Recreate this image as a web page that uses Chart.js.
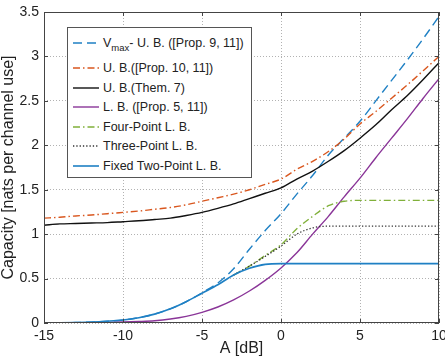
<!DOCTYPE html>
<html>
<head>
<meta charset="utf-8">
<script src="https://cdn.jsdelivr.net/npm/chart.js@4.4.1/dist/chart.umd.min.js"></script>
<style>
  html, body { margin: 0; padding: 0; background: #fff; }
  #wrap { position: relative; width: 445px; height: 356px; }
  #legend {
    position: absolute; left: 67px; top: 27px; width: 183px; height: 149px;
    border: 1px solid #555; background: #fff;
    font-family: "Liberation Sans", Arial, sans-serif; font-size: 12.5px; color: #222;
  }
  .row { position: absolute; left: 5px; height: 16px; display: flex; align-items: center; white-space: nowrap; }
  .row svg { display: block; margin-right: 4px; }
  .row sub { font-size: 9.5px; vertical-align: -4px; line-height: 0; }
</style>
</head>
<body>
<div id="wrap">
  <canvas id="chart" width="445" height="356"></canvas>
  <div id="legend"></div>
</div>
<script>
// A [dB] on the x axis
const aDb = [-15, -14, -13, -12, -11, -10, -9, -8, -7, -6, -5, -4, -3, -2, -1, 0, 1, 2, 3, 4, 5, 6, 7, 8, 9, 10];
// the three-point / four-point bounds split off the two-point one near -3 dB
const aDbBranch = [-3, -2, -1, 0, 1, 2, 3, 4, 5, 6, 7, 8, 9, 10];

const vmaxUB = [0, 0.002, 0.005, 0.01, 0.02, 0.034, 0.06, 0.1, 0.16, 0.24, 0.34, 0.45, 0.61, 0.83, 1.04, 1.23, 1.45, 1.66, 1.89, 2.08, 2.27, 2.50, 2.73, 2.96, 3.20, 3.45];
const ubProp10 = [1.18, 1.19, 1.205, 1.215, 1.23, 1.245, 1.26, 1.28, 1.30, 1.33, 1.37, 1.41, 1.45, 1.50, 1.56, 1.62, 1.73, 1.82, 1.93, 2.07, 2.24, 2.38, 2.53, 2.68, 2.84, 3.0];
const ubThm7 = [1.10, 1.115, 1.12, 1.125, 1.13, 1.14, 1.15, 1.165, 1.18, 1.21, 1.245, 1.29, 1.34, 1.40, 1.46, 1.52, 1.62, 1.71, 1.82, 1.94, 2.08, 2.23, 2.40, 2.56, 2.74, 2.93];
const lbProp5 = [0, 0.001, 0.002, 0.004, 0.007, 0.011, 0.017, 0.026, 0.045, 0.075, 0.12, 0.18, 0.26, 0.36, 0.48, 0.62, 0.79, 1.0, 1.2, 1.42, 1.63, 1.86, 2.08, 2.30, 2.53, 2.75];
const fourPointLB = [0.54, 0.64, 0.76, 0.88, 1.06, 1.20, 1.32, 1.37, 1.38, 1.38, 1.38, 1.38, 1.38, 1.38];
const threePointLB = [0.54, 0.64, 0.75, 0.865, 1.0, 1.07, 1.09, 1.09, 1.09, 1.09, 1.09, 1.09, 1.09, 1.09];
const twoPointLB = [0, 0.002, 0.005, 0.01, 0.02, 0.034, 0.06, 0.1, 0.16, 0.24, 0.335, 0.43, 0.54, 0.615, 0.66, 0.668, 0.668, 0.668, 0.668, 0.668, 0.668, 0.668, 0.668, 0.668, 0.668, 0.668];

const xTicks = [-15, -10, -5, 0, 5, 10];
const yTicks = [0, 0.5, 1, 1.5, 2, 2.5, 3, 3.5];

const BLUE = '#1f80c4';
const ORANGE = '#d9571f';
const PURPLE = '#8a3598';
const GREEN = '#80b03a';
const BLACK = '#111';
const FONT = '"Liberation Sans", Arial, sans-serif';

const pts = (xs, ys) => xs.map((x, i) => ({ x: x, y: ys[i] }));

// legend entries, in the order shown in the box
const series = [
    { html: 'V<sub>max</sub>- U. B. ([Prop. 9, 11])', data: pts(aDb, vmaxUB), color: BLUE, dash: [9, 5], width: 1.4 },
    { html: 'U. B.([Prop. 10, 11])', data: pts(aDb, ubProp10), color: ORANGE, dash: [7, 3, 1.5, 3], width: 1.4 },
    { html: 'U. B.(Them. 7)', data: pts(aDb, ubThm7), color: BLACK, dash: [], width: 1.4 },
    { html: 'L. B. ([Prop. 5, 11])', data: pts(aDb, lbProp5), color: PURPLE, dash: [], width: 1.4 },
    { html: 'Four-Point L. B.', data: pts(aDbBranch, fourPointLB), color: GREEN, dash: [7, 3, 1.5, 3], width: 1.4 },
    { html: 'Three-Point L. B.', data: pts(aDbBranch, threePointLB), color: '#333', dash: [1.3, 2], width: 1.3 },
    { html: 'Fixed Two-Point L. B.', data: pts(aDb, twoPointLB), color: BLUE, dash: [], width: 1.6 }
];

// html legend (needed for the subscript)
const rowCenters = [15, 40, 60, 79, 98.5, 118, 137.5];
const legendEl = document.getElementById('legend');
series.forEach((s, i) => {
    const row = document.createElement('div');
    row.className = 'row';
    row.style.top = (rowCenters[i] - 8) + 'px';
    row.innerHTML = `<svg width="26" height="6"><line x1="0" y1="3" x2="26" y2="3" stroke="${s.color}" stroke-width="${s.width}" stroke-dasharray="${s.dash.join(' ')}"/></svg><span>${s.html}</span>`;
    legendEl.appendChild(row);
});

// box round the plot with inward tick marks
const framePlugin = {
    id: 'frame',
    afterDraw(chart) {
        const { ctx, chartArea: a, scales: { x, y } } = chart;
        ctx.save();
        ctx.strokeStyle = '#444';
        ctx.lineWidth = 1;
        ctx.setLineDash([]);
        ctx.strokeRect(a.left + 0.5, a.top + 0.5, a.right - a.left - 1, a.bottom - a.top - 1);
        ctx.beginPath();
        xTicks.forEach(v => {
            const px = Math.round(x.getPixelForValue(v)) + 0.5;
            ctx.moveTo(px, a.bottom); ctx.lineTo(px, a.bottom - 4);
            ctx.moveTo(px, a.top); ctx.lineTo(px, a.top + 4);
        });
        yTicks.forEach(v => {
            const py = Math.round(y.getPixelForValue(v)) + 0.5;
            ctx.moveTo(a.left, py); ctx.lineTo(a.left + 4, py);
            ctx.moveTo(a.right, py); ctx.lineTo(a.right - 4, py);
        });
        ctx.stroke();
        ctx.restore();
    }
};

const ctx = document.getElementById('chart').getContext('2d');
new Chart(ctx, {
    type: 'line',
    data: {
        // reversed so the fixed two-point bound is drawn on top
        datasets: series.slice().reverse().map(s => ({
            label: s.html,
            data: s.data,
            borderColor: s.color,
            borderDash: s.dash,
            borderWidth: s.width,
            pointRadius: 0,
            fill: false,
            cubicInterpolationMode: 'monotone'
        }))
    },
    options: {
        responsive: false,
        animation: false,
        devicePixelRatio: 1,
        layout: { padding: { top: 12, right: 6, left: 0, bottom: 0 } },
        plugins: { legend: { display: false }, tooltip: { enabled: false } },
        scales: {
            x: {
                type: 'linear', min: -15, max: 10,
                afterBuildTicks: (s) => { s.ticks = xTicks.map(v => ({ value: v })); },
                ticks: { color: '#222', font: { family: FONT, size: 14 }, padding: 5, maxRotation: 0, callback: (v) => String(v) },
                grid: { color: 'rgba(0,0,0,0.3)', lineWidth: 1, drawTicks: false },
                border: { display: false, dash: [1, 2] },
                title: { display: true, text: 'A [dB]', color: '#222', font: { family: FONT, size: 16, lineHeight: 0.9 }, padding: 0 },
                afterFit: (s) => { s.height = 33; s.paddingLeft = 0; s.paddingRight = 0; }
            },
            y: {
                type: 'linear', min: 0, max: 3.5,
                afterBuildTicks: (s) => { s.ticks = yTicks.map(v => ({ value: v })); },
                ticks: { color: '#222', font: { family: FONT, size: 14 }, padding: 5, callback: (v) => String(v) },
                grid: { color: 'rgba(0,0,0,0.3)', lineWidth: 1, drawTicks: false },
                border: { display: false, dash: [1, 2] },
                title: { display: true, text: 'Capacity [nats per channel use]', color: '#222', font: { family: FONT, size: 16, lineHeight: 1.1 }, padding: 0 },
                afterFit: (s) => { s.width = 44; s.paddingTop = 0; s.paddingBottom = 0; }
            }
        }
    },
    plugins: [framePlugin]
});
</script>
</body>
</html>
